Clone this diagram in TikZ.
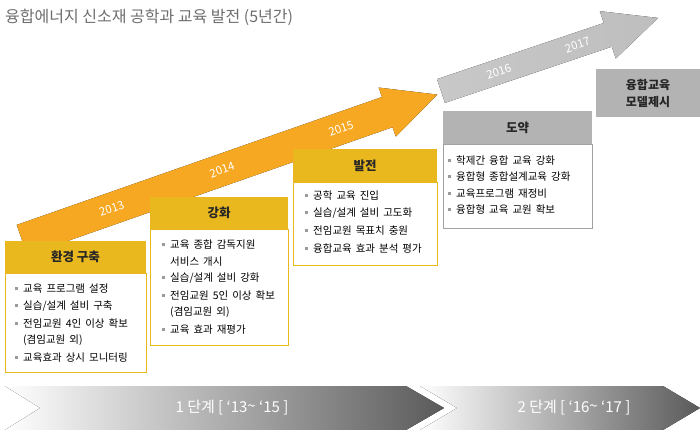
\documentclass[tikz,border=0pt]{standalone}
\usepackage{fontspec}
\setmainfont{Noto Sans CJK KR}
\usepackage{xcolor}
\usepackage{tikz}
\usetikzlibrary{positioning,calc}

\definecolor{gold}{HTML}{E9B81F}
\definecolor{ltorange}{HTML}{F7A823}
\definecolor{dkorange}{HTML}{EF7A10}
\definecolor{ltgray}{HTML}{C8C8C8}
\definecolor{palegray}{HTML}{E4E4E4}
\definecolor{steelgray}{HTML}{B3B3B3}
\definecolor{bulletgray}{HTML}{9A9A9A}
\definecolor{titlegray}{HTML}{6E6E6E}
\definecolor{stagegray}{HTML}{5A5A5A}

\newcommand{\blt}{\llap{\textcolor{bulletgray}{\rule[2.5pt]{3pt}{3pt}}\hspace{5pt}}}
\newcommand{\itemfont}{\fontsize{10.5}{12}\selectfont\spaceskip=4pt plus 1pt\relax}

\begin{document}
\begin{tikzpicture}[x=1pt, y=-1pt,
    head/.style={rectangle, fill=gold, inner sep=0pt, outer sep=0pt, font=\bfseries\fontsize{12.5}{14}\selectfont, text=black!85},
    body/.style={draw=gold, line width=0.8pt, rectangle, fill=white, inner sep=0pt, outer sep=0pt, anchor=north},
    item/.style={anchor=west, inner sep=0pt, font=\itemfont, text=black},
    year/.style={text=white, font=\fontsize{11.5}{12}\selectfont},
    stage/.style={text=white, font=\fontsize{15}{16}\selectfont}
]
    \useasboundingbox (0,0) rectangle (700,429);

    \node [anchor=west, inner sep=0pt, text=titlegray, font=\fontsize{16}{18}\selectfont] (title) at (5,17) {융합에너지 신소재 공학과 교육 발전 (5년간)};

    % Orange arrow
    \begin{scope}[shift={(22,240)}, rotate=19.3]
        \fill [left color=ltorange, middle color=dkorange, right color=ltorange]
            (0,-16) -- (387,-16) -- (387,-26) -- (440,0) -- (387,26) -- (387,16) -- (0,16) -- cycle;
        \foreach \a/\yr in {95/2013, 212/2014, 338/2015} {
            \node [year, rotate=19.3] (y\yr) at (\a,0) {\yr};
        }
    \end{scope}

    % Gray arrow
    \begin{scope}[shift={(441,91)}, rotate=18.6]
        \fill [left color=ltgray, middle color=palegray, right color=ltgray!95!black]
            (0,-12.5) -- (176,-12.5) -- (176,-25) -- (229,0) -- (176,25) -- (176,12.5) -- (0,12.5) -- cycle;
        \foreach \a/\yr in {61/2016, 144/2017} {
            \node [year, rotate=18.6] (y\yr) at (\a,0) {\yr};
        }
    \end{scope}

    % Boxes
    \node [head, minimum width=141pt, minimum height=32pt] (envhead) at (75.5,257) {환경 구축};
    \node [body, minimum width=141pt, minimum height=99pt] (envbody) at (envhead.south) {};

    \node [head, minimum width=138pt, minimum height=32pt] (enfhead) at (219,213) {강화};
    \node [body, minimum width=138pt, minimum height=116pt] (enfbody) at (enfhead.south) {};

    \node [head, minimum width=144pt, minimum height=33pt] (devhead) at (365,165.5) {발전};
    \node [body, minimum width=144pt, minimum height=83pt] (devbody) at (devhead.south) {};

    \node [head, fill=steelgray, minimum width=149pt, minimum height=33pt] (leaphead) at (517.5,127.5) {도약};
    \node [body, draw=steelgray!90!black, minimum width=149pt, minimum height=84pt] (leapbody) at (leaphead.south) {};

    \node [head, fill=steelgray, align=center, minimum width=104pt, minimum height=48pt, font=\bfseries\fontsize{12}{17}\selectfont] (model) at (648,93) {융합교육\\모델제시};

    % Items
    \foreach \i/\label in {1/\blt 교육 프로그램 설정, 2/{\blt 실습/설계 설비 구축}, 3/\blt 전임교원 4인 이상 확보, 4/(겸임교원 외), 5/\blt 교육효과 상시 모니터링} {
        \node [item] at ([xshift=18pt, yshift=1.2pt-\i*17.2pt]envbody.north west) {\label};
    }
    \foreach \i/\label in {1/\blt 교육 종합 감독지원, 2/서비스 개시, 3/{\blt 실습/설계 설비 강화}, 4/\blt 전임교원 5인 이상 확보, 5/(겸임교원 외), 6/\blt 교육 효과 재평가} {
        \node [item] at ([xshift=20pt, yshift=1.2pt-\i*16.9pt]enfbody.north west) {\label};
    }
    \foreach \i/\label in {1/\blt 공학 교육 진입, 2/{\blt 실습/설계 설비 고도화}, 3/\blt 전임교원 목표치 충원, 4/\blt 융합교육 효과 분석 평가} {
        \node [item] at ([xshift=20pt, yshift=3.5pt-\i*17.5pt]devbody.north west) {\label};
    }
    \foreach \i/\label in {1/\blt 학제간 융합 교육 강화, 2/\blt 융합형 종합설계교육 강화, 3/\blt 교육프로그램 재정비, 4/\blt 융합형 교육 교원 확보} {
        \node [item] at ([xshift=13pt, yshift=0pt-\i*16.5pt]leapbody.north west) {\label};
    }

    % Stages
    \fill [left color=white, right color=stagegray]
        (420,386) -- (663,386) -- (700,408) -- (663,430) -- (420,430) -- (457,408) -- cycle;
    \fill [left color=white, right color=stagegray]
        (5,386) -- (406,386) -- (444,408) -- (406,430) -- (5,430) -- (40,408) -- cycle;
    \node [stage] (stageone) at (232,408) {1 단계 [ ‘13\raisebox{1pt}{\textasciitilde} ‘15 ]};
    \node [stage] (stagetwo) at (574,408) {2 단계 [ ‘16\raisebox{1pt}{\textasciitilde} ‘17 ]};
\end{tikzpicture}
\end{document}
